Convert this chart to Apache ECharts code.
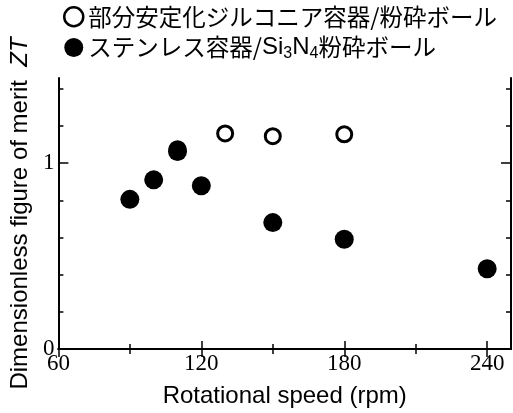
<!DOCTYPE html>
<html><head><meta charset="utf-8">
<script src="https://cdn.jsdelivr.net/npm/echarts@6/dist/echarts.min.js"></script>
<style>html,body{margin:0;padding:0;background:#fff}#c{width:513px;height:413px}</style>
</head><body><div id="c"></div>
<script>
// Data
const seriesNames = ['部分安定化ジルコニア容器/粉砕ボール', 'ステンレス容器/Si3N4粉砕ボール'];
const zirconiaSpeed = [110, 130, 150, 180];
const zirconiaZT = [1.075, 1.16, 1.145, 1.155];
const steelSpeed = [90, 100, 110, 120, 150, 180, 240];
const steelZT = [0.805, 0.91, 1.063, 0.878, 0.68, 0.59, 0.432];
const xMajorTicks = [60, 120, 180, 240];
const xMinorTicks = [90, 150, 210];
const yLabelTicks = [0, 1];
const yMinorTicks = [0, 0.2, 0.4, 0.6, 0.8, 1.2, 1.4];
const yMajorTicks = [1];

const chart = echarts.init(document.getElementById('c'), null, {renderer: 'canvas'});
const axLine = {show: true, lineStyle: {color: '#000', width: 2}};
const noLine = {show: false};
const serif = 'Liberation Serif';
const sans = 'Liberation Sans';
function xAx(pos, ticks, len, labels, line) {
  return {
    type: 'value', position: pos, min: 60, max: 250, gridIndex: 0,
    axisLine: line ? axLine : noLine,
    axisTick: {show: true, inside: true, length: len, customValues: ticks, lineStyle: {color: '#000', width: 1.5}},
    axisLabel: labels ? {show: true, customValues: labels, color: '#000', fontFamily: serif, fontSize: 23, margin: 3} : {show: false},
    splitLine: {show: false}
  };
}
function yAx(pos, ticks, len, labels, line) {
  return {
    type: 'value', position: pos, min: 0, max: 1.458, gridIndex: 0,
    axisLine: line ? axLine : noLine,
    axisTick: {show: true, inside: true, length: len, customValues: ticks, lineStyle: {color: '#000', width: 1.5}},
    axisLabel: labels ? {show: true, customValues: labels, color: '#000', fontFamily: serif, fontSize: 23, margin: 4} : {show: false},
    splitLine: {show: false}
  };
}
const xAxes = [
  xAx('bottom', xMajorTicks, 8, xMajorTicks, true),
  xAx('bottom', xMinorTicks, 5, null, false),
  xAx('top', xMajorTicks, 8, null, true),
  xAx('top', xMinorTicks, 5, null, false)
];
xAxes[0].name = 'Rotational speed (rpm)';
xAxes[0].nameLocation = 'middle';
xAxes[0].nameGap = 35;
xAxes[0].nameTextStyle = {color: '#000', fontFamily: sans, fontSize: 24};
const yAxes = [
  yAx('left', yMinorTicks, 5, yLabelTicks, true),
  yAx('left', yMajorTicks, 10, null, false),
  yAx('right', yMinorTicks, 5, null, true),
  yAx('right', yMajorTicks, 10, null, false)
];
yAxes[0].name = 'Dimensionless figure of merit  {i|ZT}';
yAxes[0].nameLocation = 'middle';
yAxes[0].nameGap = 22;
yAxes[0].nameTextStyle = {color: '#000', fontFamily: sans, fontSize: 24, rich: {i: {fontStyle: 'italic', fontFamily: sans, fontSize: 24, color: '#000'}}};

chart.setOption({
  animation: false,
  grid: {left: 56, right: 2, top: 78, bottom: 60, containLabel: false},
  xAxis: xAxes,
  yAxis: yAxes,
  legend: {
    orient: 'vertical', left: 63, top: 5, padding: 0, itemWidth: 19, itemHeight: 19, itemGap: 7,
    selectedMode: false,
    data: [
      {name: seriesNames[0], icon: 'circle', itemStyle: {color: '#fff', borderColor: '#000', borderWidth: 2.5}},
      {name: seriesNames[1], icon: 'circle', itemStyle: {color: '#000', borderWidth: 0}}
    ],
    formatter: function (n) {
      if (n === seriesNames[1]) return '{t|ステンレス容器/}{l|Si}{s|3}{l|N}{s|4}{t|粉砕ボール}';
      return '{t|' + n + '}';
    },
    textStyle: {
      color: '#000', fontSize: 23, fontFamily: 'Noto Sans CJK JP',
      rich: {
        t: {fontSize: 23.5, fontFamily: 'Noto Sans CJK JP', color: '#000', height: 26, verticalAlign: 'middle'},
        l: {fontSize: 24, fontFamily: sans, color: '#000', height: 26, verticalAlign: 'middle'},
        s: {fontSize: 16, fontFamily: sans, color: '#000', padding: [12, 0, 0, 0], verticalAlign: 'middle'}
      }
    }
  },
  series: [
    {name: seriesNames[0], type: 'scatter', xAxisIndex: 0, yAxisIndex: 0, symbol: 'circle', symbolSize: 15,
     itemStyle: {color: '#fff', borderColor: '#000', borderWidth: 3, opacity: 1},
     data: zirconiaSpeed.map((s, i) => [s, zirconiaZT[i]]), z: 2},
    {name: seriesNames[1], type: 'scatter', xAxisIndex: 0, yAxisIndex: 0, symbol: 'circle', symbolSize: 19,
     itemStyle: {color: '#000', opacity: 1},
     data: steelSpeed.map((s, i) => [s, steelZT[i]]), z: 3}
  ]
});
</script></body></html>
